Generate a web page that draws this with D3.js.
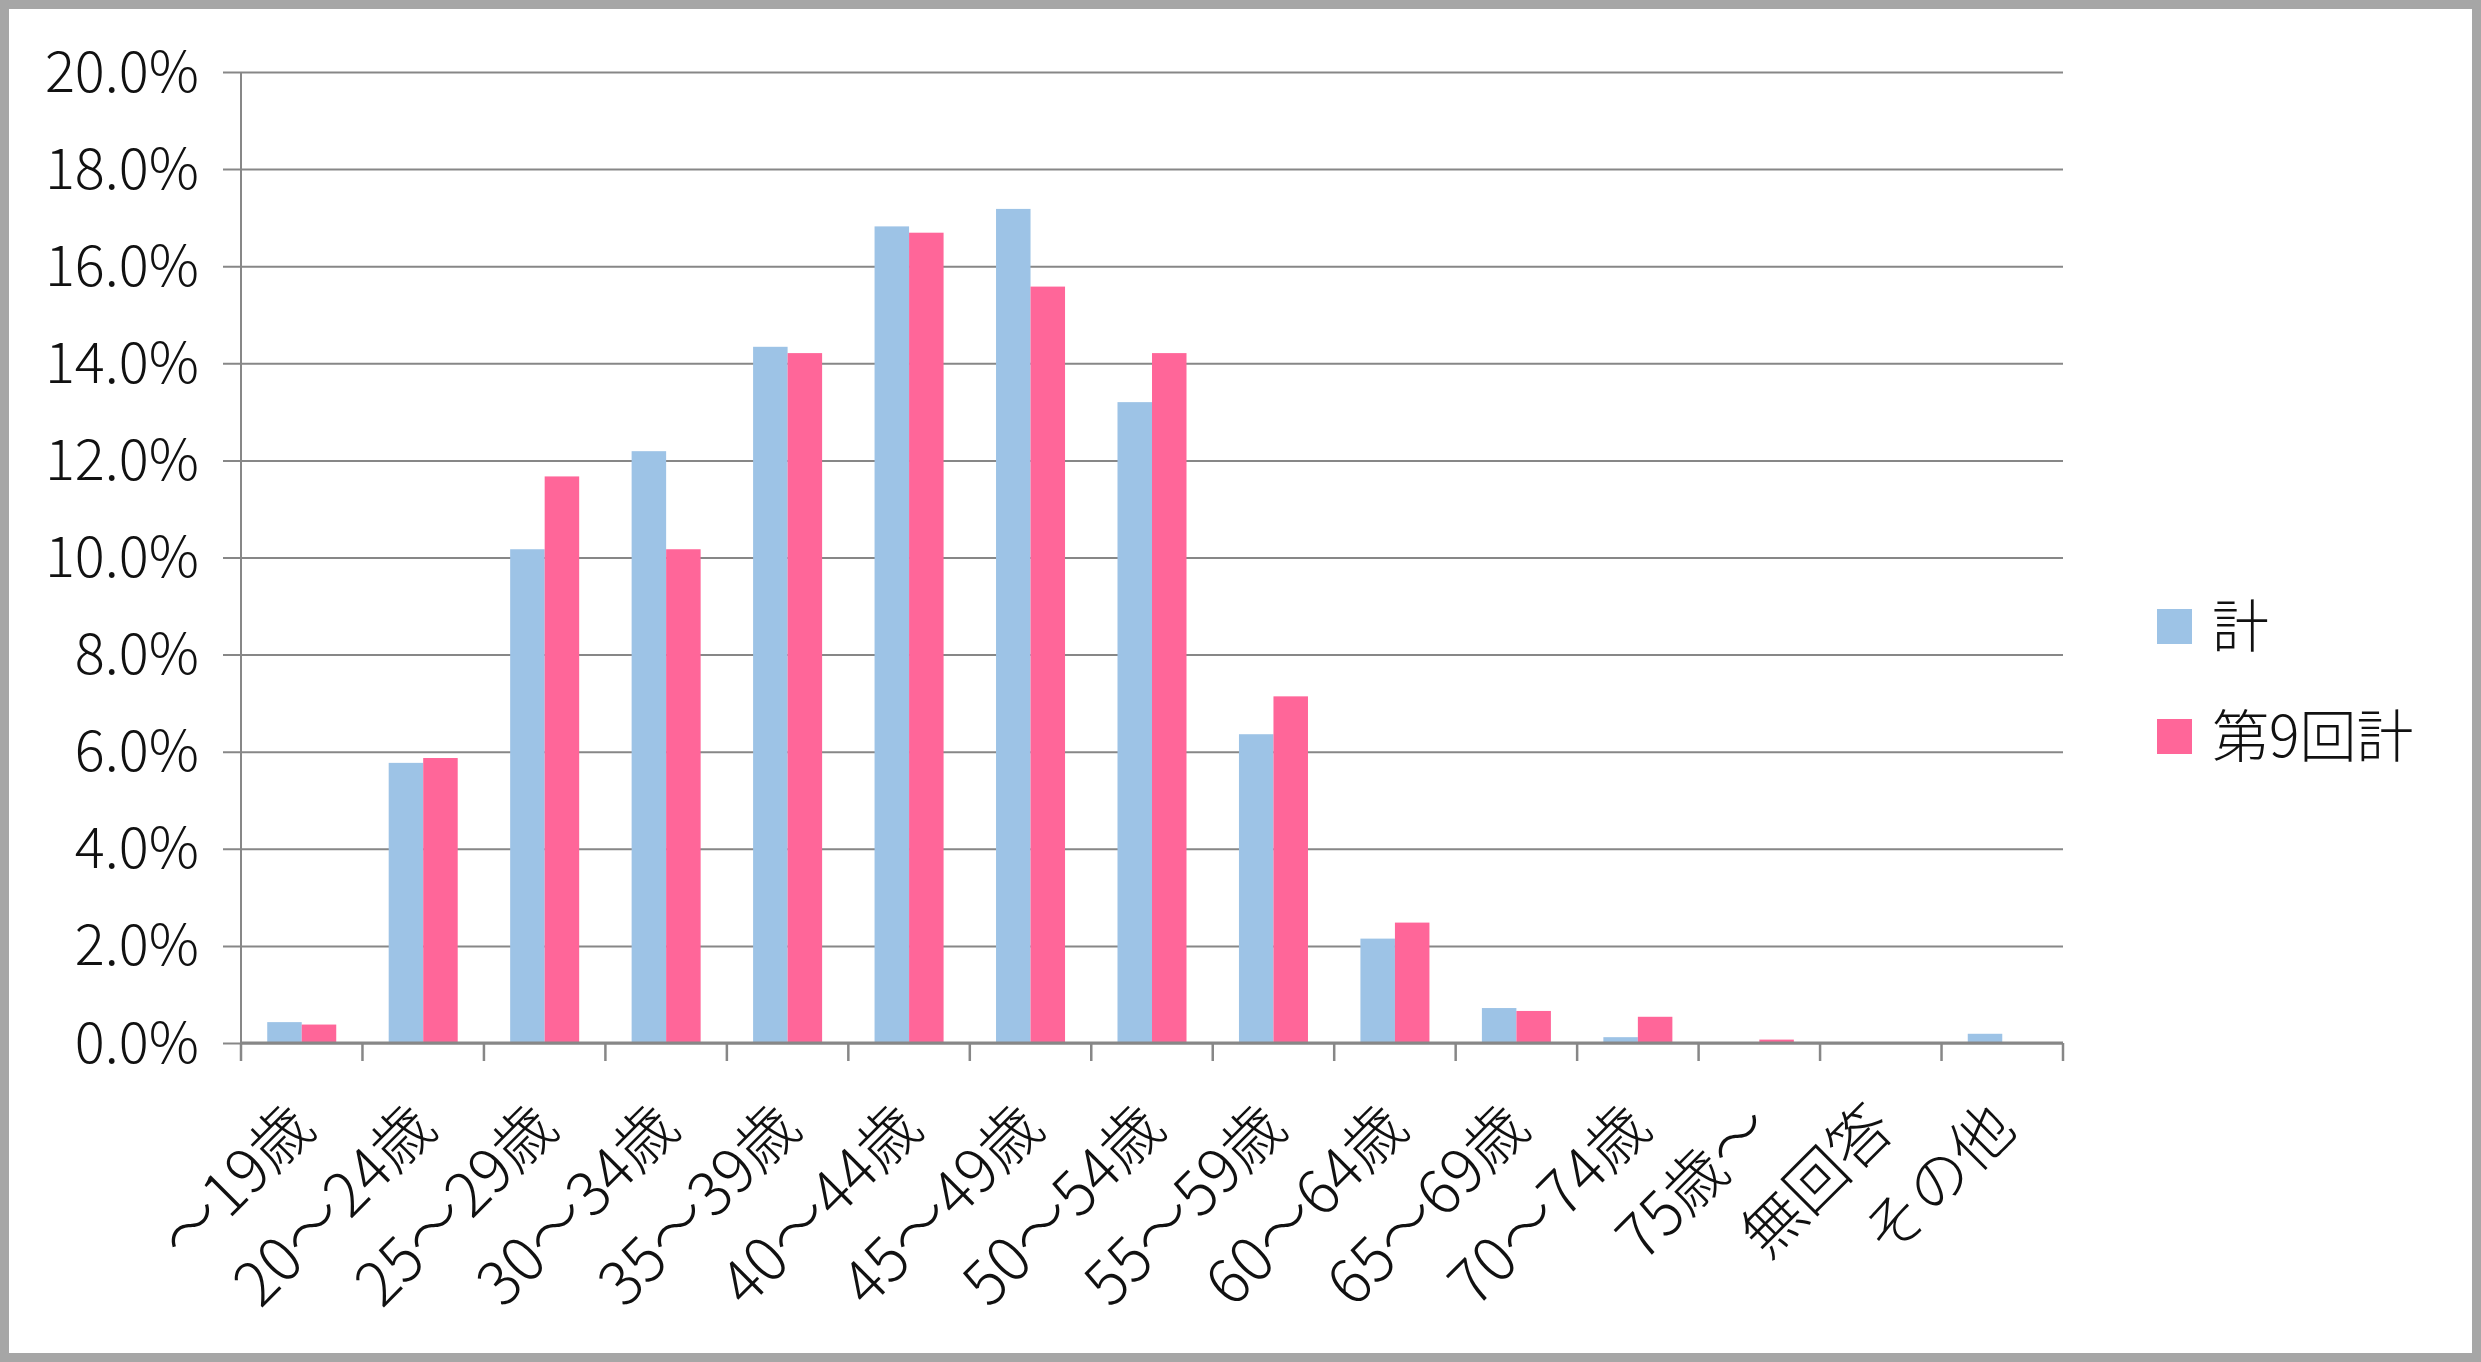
<!DOCTYPE html>
<html>
<head>
<meta charset="utf-8">
<script src="https://cdn.jsdelivr.net/npm/d3@7"></script>
<style>
  html, body { margin: 0; padding: 0; background: #fff; }
  svg { display: block; }
  text { font-family: "Noto Sans CJK JP", "Noto Sans", sans-serif; fill: #111; }
</style>
</head>
<body>
<svg id="chart" width="2481" height="1362"></svg>
<script>
// ---- data ----
const categories = ["～19歳","20～24歳","25～29歳","30～34歳","35～39歳","40～44歳","45～49歳","50～54歳","55～59歳","60～64歳","65～69歳","70～74歳","75歳～","無回答","その他"];
const seriesNames = ["計", "第9回計"];
const totalValues = [0.43, 5.77, 10.17, 12.19, 14.34, 16.82, 17.18, 13.20, 6.36, 2.15, 0.72, 0.12, 0.0, 0.0, 0.19];
const ninthValues = [0.38, 5.87, 11.67, 10.17, 14.21, 16.69, 15.58, 14.21, 7.14, 2.48, 0.66, 0.54, 0.07, 0.0, 0.0];
const yTickValues = [0, 2, 4, 6, 8, 10, 12, 14, 16, 18, 20];
const seriesColors = ["#9DC3E6", "#FF6699"];

// ---- layout ----
const W = 2481, H = 1362;
const plotLeft = 241, plotRight = 2063, plotTop = 72, plotBottom = 1043;
const gridColor = "#878787";

const svg = d3.select("#chart");

// outer frame
svg.append("rect")
  .attr("x", 4.5).attr("y", 4.5)
  .attr("width", W - 9).attr("height", H - 9)
  .attr("fill", "#fff")
  .attr("stroke", "#a6a6a6")
  .attr("stroke-width", 9);

const x = d3.scaleBand().domain(categories).range([plotLeft, plotRight]).padding(0);
const xInner = d3.scaleBand().domain(seriesNames).range([0, x.bandwidth()]).paddingInner(0).paddingOuter(0.76);
const y = d3.scaleLinear().domain([0, 20]).range([plotBottom, plotTop]);

// y axis with gridlines
const yAxis = d3.axisLeft(y)
  .tickValues(yTickValues)
  .tickSize(-(plotRight - (plotLeft - 18)))
  .tickPadding(24)
  .tickFormat(d => d3.format(".1f")(d) + "%");

const gy = svg.append("g")
  .attr("transform", `translate(${plotLeft - 18},0)`)
  .call(yAxis);
gy.select(".domain").remove();
gy.selectAll(".tick line").attr("stroke", gridColor).attr("stroke-width", 2);
gy.selectAll(".tick text")
  .attr("font-size", 56)
  .attr("font-weight", 300)
  .attr("dy", "0.34em")
  .style("fill", "#111");

// bars
const data = categories.map((c, i) => ({ cat: c, values: [totalValues[i], ninthValues[i]] }));
const groups = svg.append("g").selectAll("g")
  .data(data).join("g")
  .attr("transform", d => `translate(${x(d.cat)},0)`);
groups.selectAll("rect")
  .data(d => d.values.map((v, j) => ({ name: seriesNames[j], v, j })))
  .join("rect")
  .attr("x", d => xInner(d.name))
  .attr("width", xInner.bandwidth())
  .attr("y", d => y(d.v))
  .attr("height", d => y(0) - y(d.v))
  .attr("fill", d => seriesColors[d.j]);

// left axis line
svg.append("line")
  .attr("x1", plotLeft).attr("x2", plotLeft)
  .attr("y1", plotTop).attr("y2", plotBottom + 18)
  .attr("stroke", gridColor).attr("stroke-width", 2);

// bottom axis line
svg.append("line")
  .attr("x1", plotLeft).attr("x2", plotRight)
  .attr("y1", plotBottom).attr("y2", plotBottom)
  .attr("stroke", gridColor).attr("stroke-width", 3);

// category boundary ticks
const boundaries = categories.map(c => x(c)).concat([x(categories[categories.length - 1]) + x.bandwidth()]);
svg.append("g").selectAll("line")
  .data(boundaries).join("line")
  .attr("x1", d => d).attr("x2", d => d)
  .attr("y1", plotBottom).attr("y2", plotBottom + 18)
  .attr("stroke", gridColor).attr("stroke-width", 2.5);

// x labels rotated
svg.append("g").selectAll("text")
  .data(categories).join("text")
  .attr("transform", d => `translate(${x(d) + x.bandwidth() / 2 + 16},${plotBottom + 88}) rotate(-45)`)
  .attr("text-anchor", "end")
  .attr("font-size", 61)
  .attr("font-weight", 300)
  .text(d => d);

// legend
const legend = svg.append("g").selectAll("g")
  .data(seriesNames).join("g")
  .attr("transform", (d, i) => `translate(2157,${609 + i * 110})`);
legend.append("rect")
  .attr("width", 35).attr("height", 35)
  .attr("fill", (d, i) => seriesColors[i]);
legend.append("text")
  .attr("x", 55).attr("y", 17.5)
  .attr("dy", "0.36em")
  .attr("font-size", 57)
  .attr("font-weight", 300)
  .text(d => d);
</script>
</body>
</html>
